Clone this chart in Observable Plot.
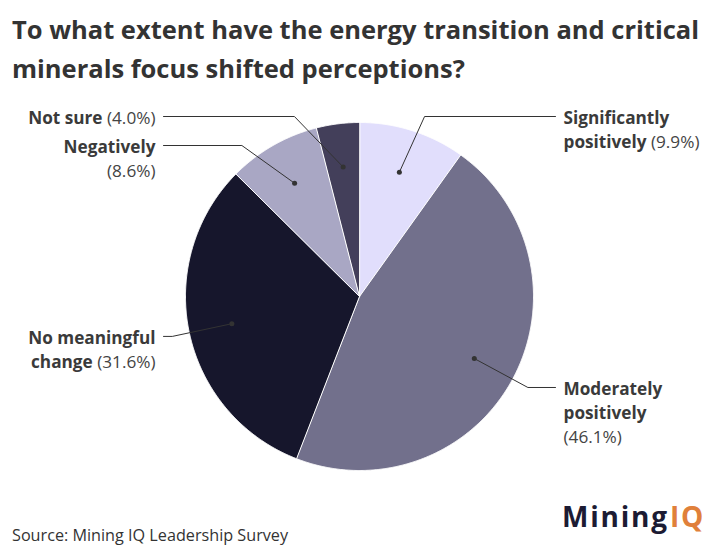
<!DOCTYPE html>
<html><head><meta charset="utf-8">
<script src="https://cdn.jsdelivr.net/npm/d3@7"></script>
<script src="https://cdn.jsdelivr.net/npm/@observablehq/plot@0.6"></script>
<style>
body{margin:0;background:#fff;font-family:"Open Sans",sans-serif;width:720px;height:557px;position:relative;overflow:hidden}
#title{position:absolute;left:12px;top:10px;font-size:25.5px;line-height:39px;font-weight:700;color:#333;margin:0;white-space:nowrap}
#chart{position:absolute;left:0;top:95px}
#source{position:absolute;left:12px;top:524px;font-size:16.2px;color:#333}
#logo{position:absolute;left:562px;top:497px;font-size:28px;font-weight:700;color:#1c1b33;letter-spacing:1.8px;white-space:nowrap}
#logo span{color:#e0803a;margin-left:1px}
</style></head><body>
<h1 id="title">To what extent have the energy transition and critical<br>minerals focus shifted perceptions?</h1>
<div id="chart"></div>
<div id="source">Source: Mining IQ Leadership Survey</div>
<div id="logo">Mining<span>IQ</span></div>
<script>
// ---- data ----
const categories = ["Significantly positively","Moderately positively","No meaningful change","Negatively","Not sure"];
const values = [9.9, 46.1, 31.6, 8.6, 4.0];
const colors = ["#e1defc","#72708c","#16162c","#a9a7c4","#433f5a"];
// label wrapping (layout)
const labelNames = ["Significantly\npositively","Moderately\npositively","No meaningful\nchange","Negatively","Not sure"];
const valueSeparators = [" ","\n"," ","\n"," "];

// ---- layout ----
const W = 720, H = 400, R = 174, cx = 359, cy = 201;
const fontSize = 17.2, lineH = 24, labelGap = 5, elbowR = 1.1, topLimit = -180;

const data = categories.map((name, i) => ({name, value: values[i], color: colors[i]}));
const arcs = d3.pie().sort(null).value(d => d.value)(data);

// slice polygons in unit coordinates (y up)
const polys = [];
arcs.forEach(a => {
  polys.push({name: a.data.name, x: 0, y: 0});
  const n = Math.max(2, Math.ceil((a.endAngle - a.startAngle) / 0.005));
  for (let k = 0; k <= n; k++) {
    const t = a.startAngle + (a.endAngle - a.startAngle) * k / n;
    polys.push({name: a.data.name, x: Math.sin(t), y: Math.cos(t)});
  }
});

// labels
const labels = arcs.map((a, i) => {
  const m = (a.startAngle + a.endAngle) / 2;
  const text = labelNames[i] + valueSeparators[i] + "(" + a.data.value.toFixed(1) + "%)";
  const lines = text.split("\n").length;
  return {name: a.data.name, m, side: Math.sin(m) >= 0 ? 1 : -1, text, lines,
          ny: Math.max(topLimit, -elbowR * R * Math.cos(m))};
});
for (const side of [1, -1]) {
  const s = labels.filter(l => l.side === side).sort((a, b) => a.ny - b.ny);
  let prev = null;
  for (const l of s) {
    l.py = prev ? Math.max(l.ny, prev.py + prev.lines * lineH + labelGap) : l.ny;
    prev = l;
  }
}
const leaders = [], dots = [], texts = [];
labels.forEach(l => {
  const dx = 0.75 * Math.sin(l.m), dy = 0.75 * Math.cos(l.m);
  const er = elbowR * R;
  const ex = l.side * Math.sqrt(Math.max(0, er * er - l.py * l.py));
  const endX = l.side * (R + 22);
  dots.push({name: l.name, x: dx, y: dy});
  leaders.push({name: l.name, x: dx, y: dy});
  leaders.push({name: l.name, x: ex / R, y: -l.py / R});
  leaders.push({name: l.name, x: endX / R, y: -l.py / R});
  texts.push({name: l.name, text: l.text, side: l.side,
              x: l.side * (R + 30) / R, y: -(l.py + (l.lines - 1) * lineH / 2) / R});
});

const chart = Plot.plot({
  width: W, height: H,
  margin: 0,
  x: {domain: [-cx / R, (W - cx) / R], axis: null},
  y: {domain: [-(H - cy) / R, cy / R], axis: null},
  color: {domain: categories, range: colors},
  style: {fontFamily: "'Open Sans', sans-serif", background: "white"},
  marks: [
    Plot.line(polys, {x: "x", y: "y", z: "name", fill: "name", stroke: "white", strokeWidth: 1, curve: "linear-closed"}),
    Plot.line(leaders, {x: "x", y: "y", z: "name", stroke: "#333", strokeWidth: 1}),
    Plot.dot(dots, {x: "x", y: "y", r: 2.5, fill: "#333", stroke: "none"}),
    Plot.text(texts.filter(d => d.side > 0), {x: "x", y: "y", text: "text", textAnchor: "start", lineAnchor: "middle", lineHeight: lineH / fontSize, fontSize, fill: "#444"}),
    Plot.text(texts.filter(d => d.side < 0), {x: "x", y: "y", text: "text", textAnchor: "end", lineAnchor: "middle", lineHeight: lineH / fontSize, fontSize, fill: "#444"})
  ]
});
document.getElementById("chart").appendChild(chart);

// bold the category part of each label line (before the value in parentheses)
chart.querySelectorAll('g[aria-label="text"] text').forEach(t => {
  const lines = t.querySelectorAll("tspan").length ? Array.from(t.querySelectorAll("tspan")) : [t];
  lines.forEach(node => {
    const s = node.textContent;
    const idx = s.indexOf("(");
    const bold = idx < 0 ? s : s.slice(0, idx);
    const rest = idx < 0 ? "" : s.slice(idx);
    node.textContent = "";
    if (bold) {
      const b = document.createElementNS("http://www.w3.org/2000/svg", "tspan");
      b.setAttribute("font-weight", "bold");
      b.setAttribute("fill", "#3a3a3a");
      b.textContent = bold;
      node.appendChild(b);
    }
    if (rest) node.appendChild(document.createTextNode(rest));
  });
});
</script>
</body></html>
